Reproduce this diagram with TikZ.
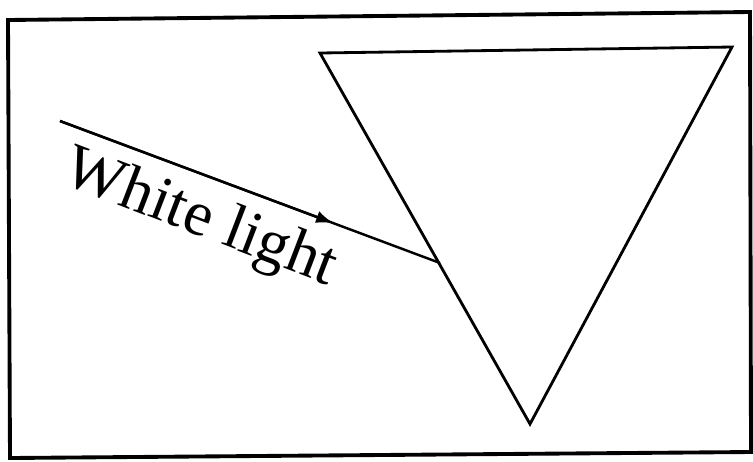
\documentclass[tikz,border=0pt]{standalone}
\usepackage{tikz}
\usetikzlibrary{arrows.meta,calc}
\usepackage{fontspec}
\setmainfont{Liberation Serif}

\begin{document}
\begin{tikzpicture}[x=0.02cm, y=-0.02cm, >={Latex[length=10pt,width=7pt]}, line join=miter]
        \useasboundingbox (0,0) rectangle (753,461);
        \draw [line width=2.2pt] (8,20) -- (750,12) -- (751,452) -- (10,458) -- cycle;
        \coordinate (apexL) at (320,53);
        \coordinate (apexR) at (732,47);
        \coordinate (apexB) at (530,424);
        \coordinate (src) at (60,121);
        \coordinate (hit) at (440,263);
        \draw [line width=1.6pt] (apexL) -- (apexR) -- (apexB) -- cycle;
        \draw [line width=1.4pt] (src) -- (hit);
        \draw [line width=1.4pt, ->] (src) -- ($(src)!0.72!(hit)$);
        \node [rotate=-21, font=\fontsize{36}{40}\selectfont] (label) at (200,220) {White light};
    \end{tikzpicture}
\end{document}
